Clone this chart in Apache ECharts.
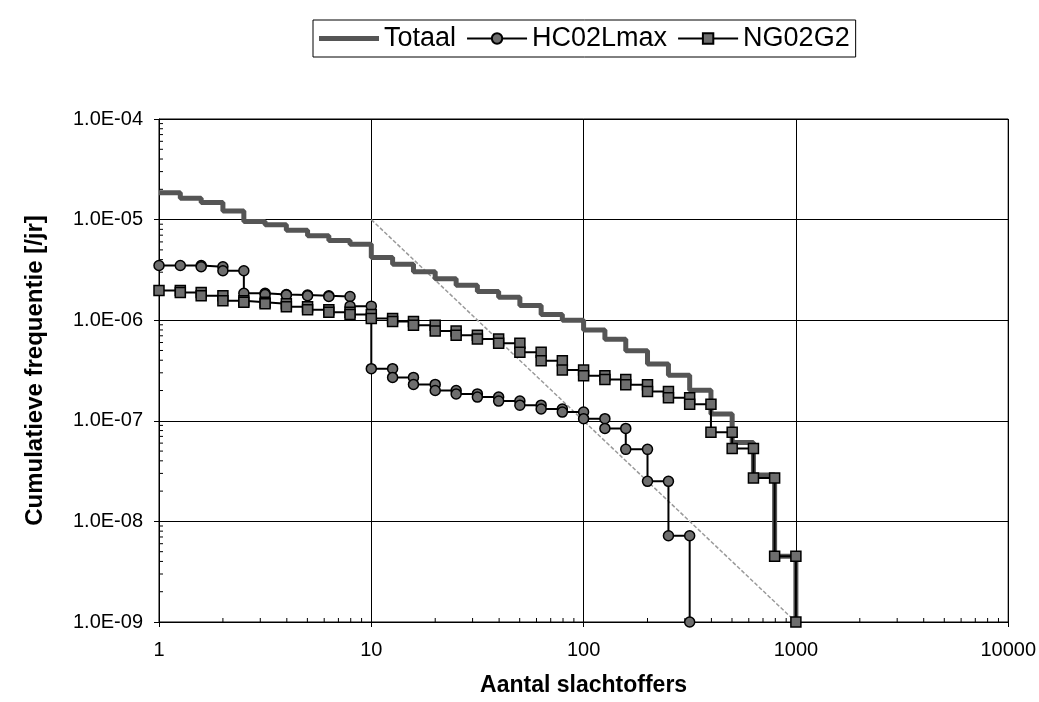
<!DOCTYPE html>
<html>
<head>
<meta charset="utf-8">
<script src="https://cdn.jsdelivr.net/npm/echarts@6/dist/echarts.min.js"></script>
<style>
  html, body { margin: 0; padding: 0; background: #fff; }
  #chart { width: 1039px; height: 702px; }
</style>
</head>
<body>
<div id="chart"></div>
<script>
// aantal slachtoffers (10 punten per decade)
const xValues = [1, 1.26, 1.58, 2, 2.51, 3.16, 3.98, 5.01, 6.31, 7.94,
  10, 12.6, 15.8, 20, 25.1, 31.6, 39.8, 50.1, 63.1, 79.4,
  100, 126, 158, 200, 251, 316, 398, 501, 631, 794, 1000]

const totaal = [1.85e-5, 1.63e-5, 1.48e-5, 1.22e-5, 9.6e-6, 8.9e-6, 7.85e-6, 6.9e-6, 6.2e-6, 5.7e-6,
  4.2e-6, 3.6e-6, 3.03e-6, 2.58e-6, 2.23e-6, 1.93e-6, 1.69e-6, 1.4e-6, 1.14e-6, 1.0e-6,
  8.0e-7, 6.47e-7, 4.98e-7, 3.66e-7, 2.84e-7, 2.01e-7, 1.17e-7, 6.1e-8, 2.9e-8, 4.5e-9, 1e-9]

const hc02Lmax = [3.5e-6, 3.5e-6, 3.4e-6, 3.1e-6, 1.85e-6, 1.8e-6, 1.78e-6, 1.75e-6, 1.72e-6, 1.38e-6,
  3.3e-7, 2.7e-7, 2.3e-7, 2.0e-7, 1.85e-7, 1.72e-7, 1.57e-7, 1.43e-7, 1.31e-7, 1.22e-7,
  1.05e-7, 8.4e-8, 5.2e-8, 2.5e-8, 7.2e-9, 1e-9]

const ng02G2 = [1.97e-6, 1.88e-6, 1.75e-6, 1.56e-6, 1.51e-6, 1.46e-6, 1.36e-6, 1.27e-6, 1.2e-6, 1.14e-6,
  1.04e-6, 9.7e-7, 8.9e-7, 7.8e-7, 7.1e-7, 6.5e-7, 5.9e-7, 4.8e-7, 3.95e-7, 3.2e-7,
  2.8e-7, 2.58e-7, 2.28e-7, 1.96e-7, 1.69e-7, 1.46e-7, 7.7e-8, 5.3e-8, 2.7e-8, 4.5e-9, 1e-9]

// grijze normlijn
const normLine = [[10, 1e-5], [1000, 1e-9]]

const xTickLabels = ['1', '10', '100', '1000', '10000']
const yTickLabels = ['1.0E-09', '1.0E-08', '1.0E-07', '1.0E-06', '1.0E-05', '1.0E-04']

// trapjes: horizontaal tot volgende x, dan verticaal
function stepPoints(values) {
  const pts = []
  values.forEach((v, i) => {
    if (i > 0 && values[i - 1] !== v) pts.push([xValues[i], values[i - 1]])
    pts.push([xValues[i], v])
  })
  return pts
}

const minorX = []
for (let d = 0; d < 4; d++) for (let k = 2; k <= 9; k++) minorX.push(k * Math.pow(10, d))
const minorY = []
for (let e = -9; e < -4; e++) for (let k = 2; k <= 9; k++) minorY.push(k * Math.pow(10, e))

const font = 'Liberation Sans, Arial, sans-serif'
const chart = echarts.init(document.getElementById('chart'))

chart.setOption({
  animation: false,
  textStyle: { fontFamily: font, color: '#000' },
  legend: {
    data: [
      // dikke grijze balk als legend-icoon
      { name: 'Totaal', icon: 'path://M0,0 M0,4 L60,4 L60,9 L0,9 Z M60,13' },
      'HC02Lmax',
      'NG02G2'
    ],
    left: 313,
    top: 20,
    padding: [5, 6],
    itemWidth: 60,
    itemHeight: 13,
    itemGap: 10,
    borderColor: '#000',
    borderWidth: 1,
    textStyle: { fontSize: 27, color: '#000', fontFamily: font }
  },
  grid: {
    left: 159,
    right: 27,
    top: 119,
    bottom: 78,
    show: true,
    borderColor: '#000',
    borderWidth: 1
  },
  xAxis: {
    type: 'log',
    logBase: 10,
    min: 1,
    max: 10000,
    name: 'Aantal slachtoffers',
    nameLocation: 'middle',
    nameGap: 52,
    nameTextStyle: { fontSize: 23, fontWeight: 'bold', color: '#000', fontFamily: font },
    axisLine: { lineStyle: { color: '#000', width: 1 } },
    axisTick: { show: true, inside: false, length: 5, lineStyle: { color: '#000' } },
    axisLabel: {
      fontSize: 20, color: '#000', margin: 18, fontFamily: font,
      formatter: v => xTickLabels[Math.round(Math.log10(v))]
    },
    splitLine: { show: true, lineStyle: { color: '#000', width: 1 } }
  },
  yAxis: {
    type: 'log',
    logBase: 10,
    min: 1e-9,
    max: 1e-4,
    name: 'Cumulatieve frequentie [/jr]',
    nameLocation: 'middle',
    nameRotate: 90,
    nameGap: 112,
    nameTextStyle: { fontSize: 24, fontWeight: 'bold', color: '#000', fontFamily: font },
    axisLine: { lineStyle: { color: '#000', width: 1 } },
    axisTick: { show: true, inside: false, length: 5, lineStyle: { color: '#000' } },
    axisLabel: {
      fontSize: 20, color: '#000', margin: 16, fontFamily: font,
      formatter: v => yTickLabels[Math.round(Math.log10(v)) + 9]
    },
    splitLine: { show: true, lineStyle: { color: '#000', width: 1 } }
  },
  series: [
    {
      type: 'custom',
      silent: true,
      clip: false,
      data: minorX.map(v => [v]),
      encode: { x: 0 },
      renderItem: (params, api) => {
        const p = api.coord([api.value(0), 1e-9])
        return { type: 'line', shape: { x1: p[0], y1: p[1], x2: p[0], y2: p[1] - 4 }, style: { stroke: '#000', lineWidth: 1 } }
      }
    },
    {
      type: 'custom',
      silent: true,
      clip: false,
      data: minorY.map(v => [1, v]),
      encode: { x: 0, y: 1 },
      renderItem: (params, api) => {
        const p = api.coord([1, api.value(1)])
        return { type: 'line', shape: { x1: p[0], y1: p[1], x2: p[0] + 4, y2: p[1] }, style: { stroke: '#000', lineWidth: 1 } }
      }
    },
    {
      type: 'line',
      data: normLine,
      symbol: 'none',
      silent: true,
      lineStyle: { color: '#9a9a9a', width: 1.5, type: [4, 2] }
    },
    {
      name: 'Totaal',
      type: 'line',
      data: stepPoints(totaal),
      symbol: 'none',
      clip: false,
      lineStyle: { color: '#555', width: 5 },
      itemStyle: { color: '#555' }
    },
    {
      name: 'HC02Lmax',
      type: 'line',
      data: stepPoints(hc02Lmax),
      symbol: 'circle',
      symbolSize: 10,
      clip: false,
      lineStyle: { color: '#000', width: 2 },
      itemStyle: { color: '#6e6e6e', borderColor: '#000', borderWidth: 1.5 }
    },
    {
      name: 'NG02G2',
      type: 'line',
      data: stepPoints(ng02G2),
      symbol: 'rect',
      symbolSize: 10,
      clip: false,
      lineStyle: { color: '#000', width: 2 },
      itemStyle: { color: '#6e6e6e', borderColor: '#000', borderWidth: 1.5 }
    }
  ]
})

window.addEventListener('resize', () => chart.resize())
</script>
</body>
</html>
